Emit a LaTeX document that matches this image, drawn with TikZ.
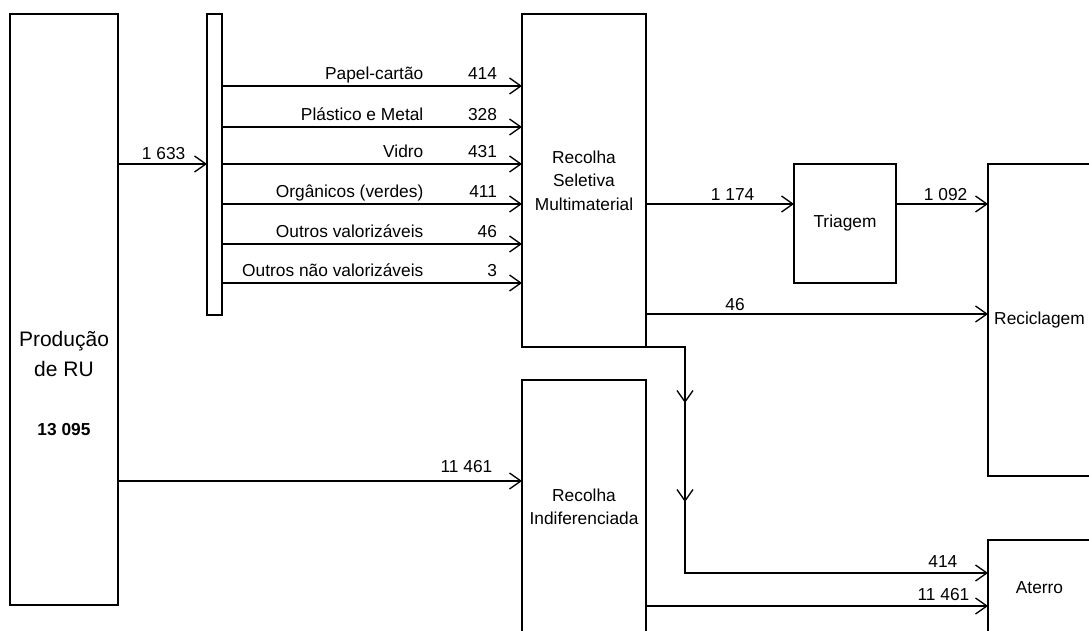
\documentclass[tikz,border=0pt]{standalone}
\usepackage{fontspec}
\setmainfont{Liberation Sans}
\usetikzlibrary{arrows.meta,decorations.markings}
\newcommand{\lblfont}{\fontsize{13}{17.5}\selectfont}
\begin{document}
\begin{tikzpicture}[x=0.75pt,y=-0.75pt,line width=1pt,
  box/.style={draw,rectangle,inner sep=0pt,outer sep=0pt,anchor=north west,align=center,font=\lblfont},
  flow/.style={-{Straight Barb[length=8.5pt,width=12pt]}},
  lbl/.style={inner sep=0pt,font=\lblfont,anchor=base east},
  downmarks/.style={postaction={decorate},decoration={markings,
    mark=at position 71.25pt with {\arrow{Straight Barb[length=8.5pt,width=12pt]}},
    mark=at position 145.5pt with {\arrow{Straight Barb[length=8.5pt,width=12pt]}}}}]
\clip (0,0) rectangle (1089,631);
\node[box,minimum width=81pt,minimum height=443.25pt] (prod) at (10,14) {};
\node[box,minimum width=11.25pt,minimum height=225.75pt] (bar) at (207,14) {};
\node[box,minimum width=93pt,minimum height=249.75pt] (sel) at (522,14) {Recolha\\Seletiva\\Multimaterial};
\node[box,minimum width=76.5pt,minimum height=89.25pt] (tri) at (794,164) {Triagem};
\node[box,minimum width=77.25pt,minimum height=234pt] (rec) at (988,164) {Reciclagem};
\node[box,minimum width=93pt,minimum height=190.5pt] (ind) at (522,380) {Recolha\\Indiferenciada};
\node[box,minimum width=77.25pt,minimum height=72pt] (ate) at (988,540) {Aterro};
\node[inner sep=0pt,align=center,anchor=north,font=\fontsize{15.75}{22.5}\selectfont] (prodtxt) at (64,331) {Produção\\de RU};
\node[inner sep=0pt,anchor=base,font=\bfseries\lblfont] (prodval) at (64,435) {13 095};
% entrada na recolha seletiva
\draw[flow] (prod.east |- 0,164) -- (bar.west |- 0,164) node[lbl,xshift=-15.75pt,yshift=3pt] {1 633};
\foreach \y/\mat/\qt in {86/Papel-cartão/414,127/Plástico e Metal/328,164/Vidro/431,
    204/Orgânicos (verdes)/411,244/Outros valorizáveis/46,283/Outros não valorizáveis/3}
  \draw[flow] (bar.east |- 0,\y) -- (sel.west |- 0,\y)
    node[lbl,xshift=-18.3pt,yshift=5pt] {\qt}
    node[lbl,xshift=-73.5pt,yshift=5pt] {\mat};
% triagem e reciclagem
\draw[flow] (sel.east |- 0,204) -- (tri.west |- 0,204) node[lbl,xshift=-29.25pt,yshift=3pt] {1 174};
\draw[flow] (tri.east |- 0,204) -- (rec.west |- 0,204) node[lbl,xshift=-15pt,yshift=3pt] {1 092};
\draw[flow] (sel.east |- 0,314) node[lbl,anchor=base,xshift=66.75pt,yshift=3pt] {46} -- (rec.west |- 0,314);
% indiferenciada e aterro
\draw[flow] (prod.east |- 0,481) -- (ind.west |- 0,481) node[lbl,xshift=-21.75pt,yshift=6.75pt] {11 461};
\draw[flow,downmarks] (sel.south east) -| (685,573) -- (ate.west |- 0,573) node[lbl,xshift=-22.5pt,yshift=4.5pt] {414};
\draw[flow] (ind.east |- 0,606) -- (ate.west |- 0,606) node[lbl,xshift=-13.5pt,yshift=4.5pt] {11 461};
\end{tikzpicture}
\end{document}
